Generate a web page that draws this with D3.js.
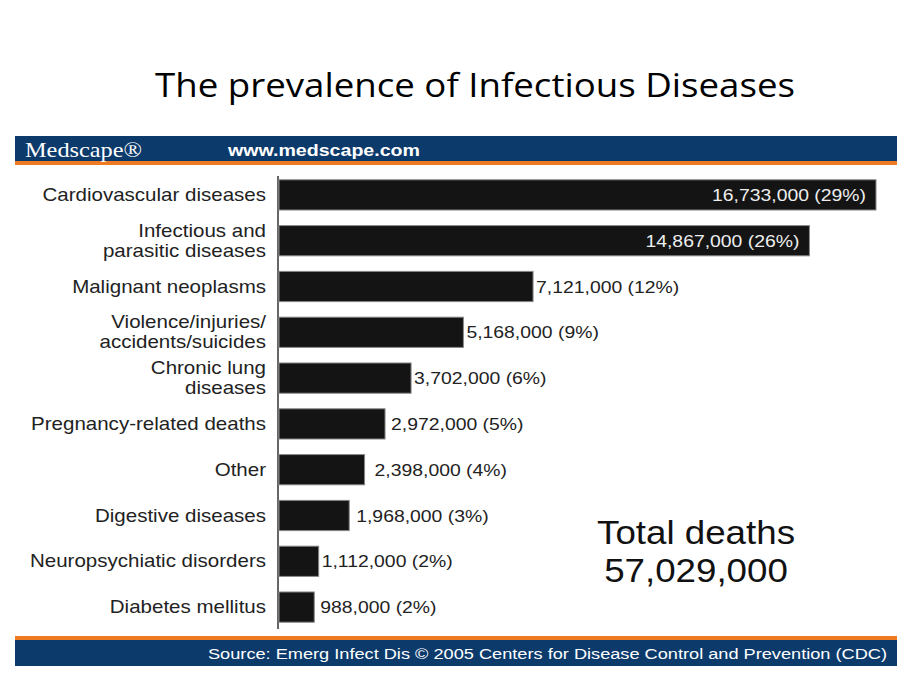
<!DOCTYPE html>
<html><head><meta charset="utf-8">
<script src="https://cdn.jsdelivr.net/npm/d3@7"></script>
<style>body{margin:0;background:#fff}svg{display:block}</style>
</head><body>
<svg id="c" width="920" height="690"></svg>
<script>
const categories = [
  ["Cardiovascular diseases"],
  ["Infectious and","parasitic diseases"],
  ["Malignant neoplasms"],
  ["Violence/injuries/","accidents/suicides"],
  ["Chronic lung","diseases"],
  ["Pregnancy-related deaths"],
  ["Other"],
  ["Digestive diseases"],
  ["Neuropsychiatic disorders"],
  ["Diabetes mellitus"]
];
const deaths = [16733000,14867000,7121000,5168000,3702000,2972000,2398000,1968000,1112000,988000];
const percents = [29,26,12,9,6,5,4,3,2,2];
const labelGaps = [0,0,3,3,3,6,10,7,3,6];
const totalLabel = ["Total deaths","57,029,000"];
const title = "The prevalence of Infectious Diseases";
const headerTexts = ["Medscape\u00AE","www.medscape.com"];
const sourceText = "Source: Emerg Infect Dis \u00A9 2005 Centers for Disease Control and Prevention (CDC)";

const svg = d3.select("#c");
const navy = "#0c3a6b", orange = "#ee7a24";
const fmt = d3.format(",");
const SANS = "'Liberation Sans', Arial, Helvetica, sans-serif";
const SX = 1.14;

svg.append("text").attr("x",475).attr("y",97).attr("text-anchor","middle")
  .attr("font-family","'Open Sans', sans-serif").attr("font-size",33).attr("fill","#000")
  .attr("textLength",640).attr("lengthAdjust","spacingAndGlyphs").text(title);

// header band
svg.append("rect").attr("x",15).attr("y",136).attr("width",882).attr("height",26).attr("fill",navy);
svg.append("rect").attr("x",15).attr("y",161).attr("width",882).attr("height",4).attr("fill",orange);
svg.append("text").attr("x",25).attr("y",157).attr("font-family","'Liberation Serif', serif")
  .attr("font-size",22).attr("fill","#fff").attr("textLength",117).attr("lengthAdjust","spacingAndGlyphs")
  .text(headerTexts[0]);
svg.append("text").attr("x",228).attr("y",156).attr("font-family",SANS).attr("font-weight","bold")
  .attr("font-size",17).attr("fill","#fff").attr("textLength",192).attr("lengthAdjust","spacingAndGlyphs")
  .text(headerTexts[1]);

// footer band
svg.append("rect").attr("x",15).attr("y",636).attr("width",882).attr("height",4).attr("fill",orange);
svg.append("rect").attr("x",15).attr("y",640).attr("width",882).attr("height",26).attr("fill",navy);
svg.append("text").attr("x",887).attr("y",659).attr("text-anchor","end")
  .attr("font-family",SANS).attr("font-size",15.5).attr("fill","#fff")
  .attr("textLength",679).attr("lengthAdjust","spacingAndGlyphs").text(sourceText);

const x0 = 279;
const x = d3.scaleLinear().domain([0,16733000]).range([x0,876]);
const y = d3.scaleBand().domain(d3.range(categories.length)).range([172,630]).paddingInner(0.34).paddingOuter(0.17);

// axis line
svg.append("line").attr("x1",278).attr("x2",278).attr("y1",176).attr("y2",629)
  .attr("stroke","#333").attr("stroke-width",1.5);

const g = svg.append("g");
g.selectAll("rect.bar").data(deaths).join("rect").attr("class","bar")
  .attr("x",x0).attr("y",(d,i)=>y(i)).attr("width",d=>x(d)-x0).attr("height",y.bandwidth())
  .attr("fill","#141414").attr("stroke","#888").attr("stroke-width",1);

g.selectAll("text.val").data(deaths).join("text").attr("class","val")
  .attr("transform",(d,i)=>{
    const tx = i<2 ? x(d)-10 : x(d)+labelGaps[i];
    return `translate(${tx},${y(i)+y.bandwidth()/2+6}) scale(${SX},1)`;
  })
  .attr("text-anchor",(d,i)=> i<2 ? "end":"start")
  .attr("font-family",SANS).attr("font-size",17)
  .attr("fill",(d,i)=> i<2 ? "#eee" : "#222")
  .text((d,i)=>`${fmt(d)} (${percents[i]}%)`);

const lab = g.selectAll("text.lab").data(categories).join("text").attr("class","lab")
  .attr("text-anchor","end").attr("font-family",SANS)
  .attr("font-size",18).attr("fill","#222")
  .attr("transform",(d,i)=>`translate(266,${y(i)+y.bandwidth()/2}) scale(${SX},1)`);
lab.each(function(lines,i){
  const n = lines.length;
  d3.select(this).selectAll("tspan").data(lines).join("tspan")
    .attr("x",0).attr("y",(l,j)=>6 + (j-(n-1)/2)*20).text(l=>l);
});

svg.append("g").selectAll("text").data(totalLabel).join("text")
  .attr("transform",(d,i)=>`translate(696,${544+i*38}) scale(1.08,1)`).attr("text-anchor","middle")
  .attr("font-family",SANS).attr("font-size",34).attr("fill","#111")
  .text(d=>d);
</script>
</body></html>
